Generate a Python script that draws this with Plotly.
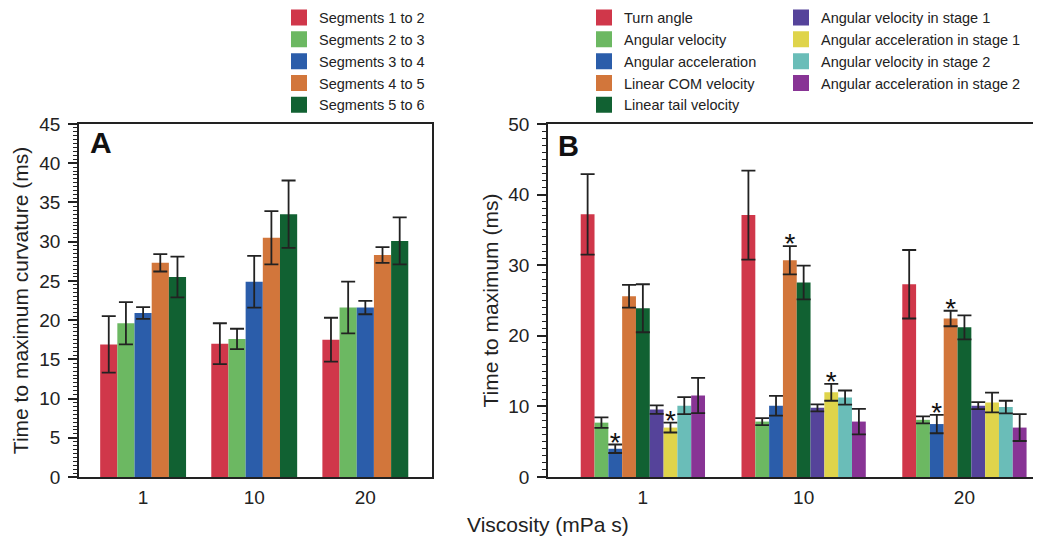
import plotly.graph_objects as go

# ---------------- data ----------------
categories = ["1", "10", "20"]

# Panel A: time to maximum curvature (ms)
a_names = ["Segments 1 to 2", "Segments 2 to 3", "Segments 3 to 4", "Segments 4 to 5", "Segments 5 to 6"]
a_seg12 = [16.9, 17.0, 17.5]
a_seg12_err = [3.6, 2.6, 2.8]
a_seg23 = [19.6, 17.6, 21.6]
a_seg23_err = [2.7, 1.3, 3.3]
a_seg34 = [20.9, 24.9, 21.6]
a_seg34_err = [0.75, 3.3, 0.85]
a_seg45 = [27.3, 30.5, 28.3]
a_seg45_err = [1.1, 3.4, 1.0]
a_seg56 = [25.5, 33.5, 30.1]
a_seg56_err = [2.6, 4.3, 3.0]

# Panel B: time to maximum (ms)
b_names = ["Turn angle", "Angular velocity", "Angular acceleration", "Linear COM velocity",
           "Linear tail velocity", "Angular velocity in stage 1", "Angular acceleration in stage 1",
           "Angular velocity in stage 2", "Angular acceleration in stage 2"]
b_turn = [37.2, 37.1, 27.3]
b_turn_err = [5.7, 6.3, 4.85]
b_angvel = [7.7, 7.85, 8.1]
b_angvel_err = [0.75, 0.5, 0.5]
b_angacc = [4.0, 10.1, 7.5]
b_angacc_err = [0.6, 1.4, 1.3]
b_lcom = [25.6, 30.7, 22.45]
b_lcom_err = [1.6, 2.0, 1.1]
b_ltail = [23.9, 27.55, 21.2]
b_ltail_err = [3.4, 2.4, 1.7]
b_av1 = [9.55, 9.8, 10.1]
b_av1_err = [0.6, 0.5, 0.5]
b_aa1 = [7.0, 12.0, 10.55]
b_aa1_err = [0.7, 1.2, 1.4]
b_av2 = [10.1, 11.25, 9.9]
b_av2_err = [1.2, 1.0, 0.9]
b_aa2 = [11.55, 7.85, 7.0]
b_aa2_err = [2.5, 1.8, 1.9]

# significance markers (index of series in panel B -> flags per category)
b_stars = {2: [True, False, True], 3: [False, True, True], 6: [True, True, False]}

# ---------------- style ----------------
a_colors = ["#D0374A", "#6CB862", "#2B5DAA", "#D2763B", "#116132"]
b_colors = ["#D0374A", "#6CB862", "#2B5DAA", "#D2763B", "#116132",
            "#55439A", "#DFD44B", "#6ABDB8", "#883495"]
FONT = "Liberation Sans, Arial, sans-serif"
AX = "#222222"
W, H = 1041, 542
OFF = 8  # page body margin of the rendered html

a_vals = [a_seg12, a_seg23, a_seg34, a_seg45, a_seg56]
a_errs = [a_seg12_err, a_seg23_err, a_seg34_err, a_seg45_err, a_seg56_err]
b_vals = [b_turn, b_angvel, b_angacc, b_lcom, b_ltail, b_av1, b_aa1, b_av2, b_aa2]
b_errs = [b_turn_err, b_angvel_err, b_angacc_err, b_lcom_err, b_ltail_err,
          b_av1_err, b_aa1_err, b_av2_err, b_aa2_err]

fig = go.Figure()

def err(arr):
    return dict(type="data", array=arr, visible=True, color=AX, thickness=1.8, width=7)

for i, (nm, v, e) in enumerate(zip(a_names, a_vals, a_errs)):
    fig.add_trace(go.Bar(x=categories, y=v, name=nm, marker=dict(color=a_colors[i], line=dict(width=0)),
                         error_y=err(e), xaxis="x", yaxis="y", offsetgroup=f"a{i}",
                         alignmentgroup="A", showlegend=False))

for i, (nm, v, e) in enumerate(zip(b_names, b_vals, b_errs)):
    fig.add_trace(go.Bar(x=categories, y=v, name=nm, marker=dict(color=b_colors[i], line=dict(width=0)),
                         error_y=err(e), xaxis="x2", yaxis="y2", offsetgroup=f"b{i}",
                         alignmentgroup="B", showlegend=False))

for i, flags in b_stars.items():
    ys = [v + e if f else None for v, e, f in zip(b_vals[i], b_errs[i], flags)]
    fig.add_trace(go.Scatter(x=categories, y=ys, mode="text", text=["*"] * 3,
                             textposition="middle center",
                             textfont=dict(family=FONT, size=28, color="#111"),
                             xaxis="x2", yaxis="y2", offsetgroup=f"b{i}", alignmentgroup="B",
                             showlegend=False, cliponaxis=False, hoverinfo="skip"))

# legend proxies on a hidden axis pair
for i, nm in enumerate(a_names):
    fig.add_trace(go.Scatter(x=[None], y=[None], mode="markers", name=nm,
                             marker=dict(symbol="square", size=18, color=a_colors[i]),
                             xaxis="x3", yaxis="y3", legend="legend"))
for i, nm in enumerate(b_names):
    fig.add_trace(go.Scatter(x=[None], y=[None], mode="markers", name=nm,
                             marker=dict(symbol="square", size=18, color=b_colors[i]),
                             xaxis="x3", yaxis="y3", legend="legend2" if i < 5 else "legend3"))

ydom = [1 - (477 - OFF) / H, 1 - (124 - OFF) / H]
tickfont = dict(family=FONT, size=19, color="#222")
titlefont = dict(family=FONT, size=21, color="#222")

common_x = dict(type="category", showline=True, linecolor=AX, linewidth=1.5, mirror=True,
                ticks="", tickfont=tickfont, ticklabelstandoff=2, showgrid=False, zeroline=False,
                automargin=False)
common_y = dict(showline=True, linecolor=AX, linewidth=1.5, mirror=True, ticks="outside",
                ticklen=9, tickwidth=1.5, tickcolor=AX, tickfont=tickfont, showgrid=False,
                zeroline=False, ticklabelstandoff=4, automargin=False)

leg = dict(bgcolor="rgba(0,0,0,0)", font=dict(family=FONT, size=14.5, color="#222"),
           xanchor="left", yanchor="top", tracegroupgap=0, itemclick=False, itemdoubleclick=False)

fig.update_layout(
    template="none",
    width=W, height=H, margin=dict(l=0, r=0, t=0, b=0, autoexpand=False),
    paper_bgcolor="white", plot_bgcolor="white",
    barmode="group", bargap=0.227, bargroupgap=0, scattermode="group",
    font=dict(family=FONT, color="#222"),
    xaxis=dict(common_x, domain=[(79 - OFF) / W, (432 - OFF) / W], anchor="y", range=[-0.577, 2.6]),
    yaxis=dict(common_y, domain=ydom, anchor="x", range=[0, 45], dtick=5,
               minor=dict(dtick=0.5, ticklen=4, tickwidth=1, tickcolor=AX, ticks="outside"),
               title=dict(text="Time to maximum curvature (ms)", font=titlefont, standoff=5)),
    xaxis2=dict(common_x, domain=[(548 - OFF) / W, (1040 - OFF) / W], anchor="y2", range=[-0.59, 2.47]),
    yaxis2=dict(common_y, domain=ydom, anchor="x2", range=[0, 50], dtick=10,
                minor=dict(dtick=1, ticklen=4, tickwidth=1, tickcolor=AX, ticks="outside"),
                title=dict(text="Time to maximum (ms)", font=titlefont, standoff=4)),
    xaxis3=dict(visible=False, domain=[0, 0.01], anchor="y3"),
    yaxis3=dict(visible=False, domain=[0, 0.01], anchor="x3"),
    legend=dict(leg, x=271 / W, y=1 + 6.5 / H),
    legend2=dict(leg, x=576 / W, y=1 + 6.5 / H),
    legend3=dict(leg, x=773 / W, y=1 + 6.5 / H),
    annotations=[
        dict(text="<b>A</b>", xref="x domain", yref="y domain", x=0.025, y=1.0,
             xanchor="left", yanchor="top", showarrow=False,
             font=dict(family=FONT, size=30, color="#111")),
        dict(text="<b>B</b>", xref="x2 domain", yref="y2 domain", x=0.016, y=0.989,
             xanchor="left", yanchor="top", showarrow=False,
             font=dict(family=FONT, size=29, color="#111")),
        dict(text="Viscosity (mPa s)", xref="paper", yref="paper", x=(548 - OFF) / W,
             y=1 - (524 - OFF) / H, xanchor="center", yanchor="middle", showarrow=False,
             font=titlefont),
    ],
)

fig.write_html("out.html")
